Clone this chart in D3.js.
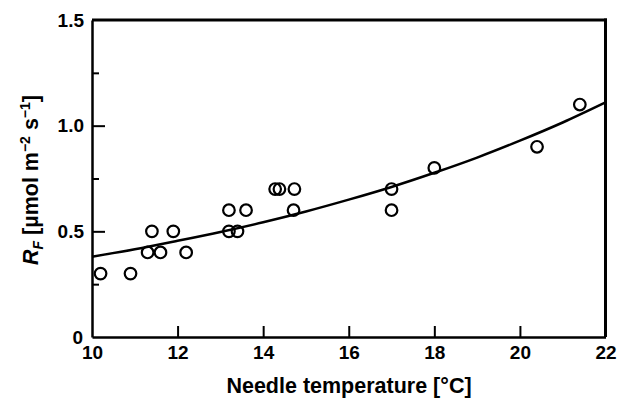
<!DOCTYPE html>
<html><head><meta charset="utf-8">
<script src="https://cdn.jsdelivr.net/npm/d3@7"></script>
<style>body{margin:0;background:#fff}svg{display:block}text{font-family:"Liberation Sans",Arial,sans-serif;font-weight:bold;fill:#000}</style>
</head><body><svg id="c" width="619" height="399"></svg>
<script>
const temps = [10.2,10.9,11.3,11.4,11.6,11.9,12.2,13.2,13.2,13.4,13.6,14.28,14.38,14.73,14.71,17.0,17.0,18.0,20.4,21.4];
const rates = [0.3,0.3,0.4,0.5,0.4,0.5,0.4,0.6,0.5,0.5,0.6,0.7,0.7,0.7,0.6,0.7,0.6,0.8,0.9,1.1];
const fitT = [10,11,12,13,14,15,16,17,18,19,20,21,22];
const fitR = [0.38,0.415,0.455,0.497,0.543,0.594,0.65,0.71,0.777,0.849,0.929,1.015,1.11];
const xTicks = [10,12,14,16,18,20,22];
const yTicks = [0,0.5,1.0,1.5];
const yMinor = [0.25,0.75,1.25];
const yLabels = ["0","0.5","1.0","1.5"];

const svg = d3.select("#c");
const x = d3.scaleLinear().domain([10,22]).range([92,605.5]);
const y = d3.scaleLinear().domain([0,1.5]).range([337,20]);

// frame
svg.append("line").attr("x1",x(10)).attr("x2",x(22)+1.5).attr("y1",y(1.5)).attr("y2",y(1.5)).attr("stroke","#000").attr("stroke-width",3);
svg.append("line").attr("x1",x(22)).attr("x2",x(22)).attr("y1",y(1.5)-1.5).attr("y2",y(0)).attr("stroke","#000").attr("stroke-width",3);

// bottom axis
const xa = svg.append("g").attr("transform",`translate(0,${y(0)})`)
  .call(d3.axisBottom(x).tickValues(xTicks).tickSizeInner(-11).tickSizeOuter(0).tickFormat(d3.format("d")));
xa.select(".domain").attr("stroke-width",2.5);
xa.selectAll(".tick line").attr("stroke-width",2);
xa.selectAll(".tick").filter(d=>d===10||d===22).select("line").remove();
xa.selectAll("text").attr("font-size",19).attr("font-family","Liberation Sans, Arial, sans-serif").attr("font-weight","bold").attr("y",9).attr("dy","0.71em");

// left axis
const ya = svg.append("g").attr("transform",`translate(${x(10)},0)`)
  .call(d3.axisLeft(y).tickValues(yTicks).tickSizeInner(-13).tickSizeOuter(0).tickFormat((d,i)=>yLabels[i]));
ya.select(".domain").attr("stroke-width",2.5);
ya.selectAll(".tick line").attr("stroke-width",2);
ya.selectAll(".tick").filter(d=>d===0||d===1.5).select("line").remove();
ya.selectAll("text").attr("font-size",19).attr("font-family","Liberation Sans, Arial, sans-serif").attr("font-weight","bold").attr("x",-8);
ya.selectAll(".tick").filter(d=>d===0).select("text").attr("dy","0.36em").attr("x",-9);
const ym = svg.append("g").attr("transform",`translate(${x(10)},0)`)
  .call(d3.axisLeft(y).tickValues(yMinor).tickSizeInner(-7).tickSizeOuter(0).tickFormat(""));
ym.select(".domain").remove();
ym.selectAll(".tick line").attr("stroke-width",2);

// fit curve
const line = d3.line().x((d,i)=>x(fitT[i])).y((d,i)=>y(fitR[i])).curve(d3.curveMonotoneX);
svg.append("path").datum(fitR).attr("d",line).attr("fill","none").attr("stroke","#000").attr("stroke-width",2.5);

// points
svg.append("g").selectAll("circle").data(rates).join("circle")
  .attr("cx",(d,i)=>x(temps[i])).attr("cy",d=>y(d)).attr("r",5.8)
  .attr("fill","none").attr("stroke","#000").attr("stroke-width",2.2);

// x title
svg.append("text").attr("x",349).attr("y",393).attr("text-anchor","middle").attr("font-size",21.5).text("Needle temperature [°C]");

// y title
const yt = svg.append("text").attr("transform","translate(38,180) rotate(-90)").attr("text-anchor","middle").attr("font-size",21.5);
yt.append("tspan").attr("font-style","italic").text("R");
yt.append("tspan").attr("font-style","italic").attr("font-size",14).attr("dy",5).text("F");
yt.append("tspan").attr("dy",-5).text(" [µmol m");
yt.append("tspan").attr("font-size",14).attr("dy",-8).text("−2");
yt.append("tspan").attr("dy",8).text(" s");
yt.append("tspan").attr("font-size",14).attr("dy",-8).text("−1");
yt.append("tspan").attr("dy",8).text("]");
</script></body></html>
